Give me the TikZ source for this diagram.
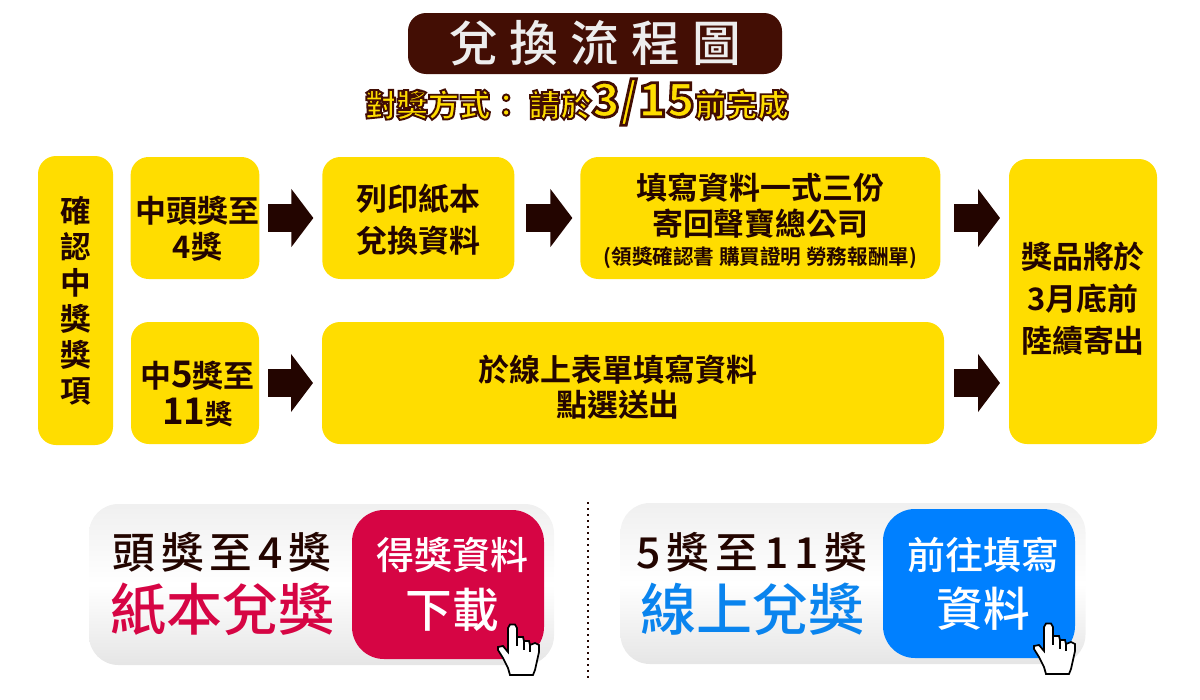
\documentclass[tikz,border=0pt]{standalone}
\usepackage{fontspec}
\usetikzlibrary{positioning,arrows.meta}
\newfontfamily\cjkbold{Noto Sans CJK TC Bold}
\newfontfamily\cjkmed{Noto Sans CJK TC Medium}
\newfontfamily\cjkwide{Noto Sans CJK TC Medium}[LetterSpace=25]
\newfontfamily\cjkwider{Noto Sans CJK TC Medium}[LetterSpace=14]
\newfontfamily\cjkline{Noto Sans CJK TC Black}[FakeBold=6]
\definecolor{flowbrown}{HTML}{430E04}
\definecolor{flowdark}{HTML}{230500}
\definecolor{flowyellow}{HTML}{FFDD00}
\definecolor{flowred}{HTML}{D60544}
\definecolor{flowblue}{HTML}{0080FF}
\definecolor{linkblue}{HTML}{0A84EE}
\newcommand{\fs}[1]{\fontsize{#1}{#1}\selectfont}
\newcommand{\dropby}[1]{\mbox{}\\[#1]}
\begin{document}
\begin{tikzpicture}[x=0.75pt,y=-0.75pt, outer sep=0pt,
    flowbox/.style={fill=flowyellow, rounded corners=13.5pt, inner sep=0pt, align=center,
      text=flowdark, minimum height=91.5pt},
    blockarr/.style 2 args={draw=flowdark, line width=21pt,
      -{Triangle[length=16.5pt,width=42.75pt]}, shorten <=#1, shorten >=#2},
    panelbox/.style={rounded corners=22pt, minimum width=348.75pt, minimum height=120.75pt,
      top color=black!6, bottom color=black!10, middle color=white, inner sep=0pt},
    gobtn/.style={rounded corners=24pt, minimum width=144pt, minimum height=111.75pt,
      inner sep=0pt, align=center, text=white, font=\cjkmed\fontsize{28.5}{43}\selectfont},
    handicon/.pic={
      \draw[fill=white, line width=1.3pt, line join=miter]
        (18,28) -- (20,24.5) -- (25,24.5) -- (27,28) -- (27,37) -- (33,37) -- (34,41)
        -- (39,41) -- (40,45) -- (45,43) -- (49,45) -- (49,52) -- (45,70) -- (43,75)
        -- (20,75) -- (18,68) -- (13,58) -- (8,50) -- (8,47) -- (13,46) -- (18,52) -- cycle;
      \draw[line width=1pt] (27,37) -- (27,46) (34,41) -- (34,50) (40,45) -- (40,52);
    }
  ]
  \useasboundingbox (0,0) rectangle (1200,700);

  \node[fill=flowbrown, rounded corners=13.5pt, minimum width=280.5pt, minimum height=45.75pt,
    text=black!7, font=\cjkwide\fs{36.5}, inner sep=0pt] (title) at (595,43.5) {兌換流程圖};
  \node[inner sep=0pt, font=\cjkline\fs{23.5}] (deadline) at (577,102) {%
    \special{pdf:bcolor [1 0.87 0] [0.26 0.05 0.01]}%
    對獎方式： 請於{\fs{35}3/15}前完成\special{pdf:ecolor}};

  \node[flowbox, minimum width=56.25pt, minimum height=216.75pt,
    font=\cjkbold\fontsize{23}{27}\selectfont] (confirm) at (75.5,300.5)
    {確\\認\\中\\獎\\獎\\項};
  \node[flowbox, minimum width=96pt, font=\cjkbold\fontsize{23.2}{27}\selectfont] (paper) at (195,218)
    {\dropby{8.4pt}\hspace*{3.75pt}中頭獎至\\\hspace*{3.75pt}4獎};
  \node[flowbox, minimum width=144pt, right=47.25pt of paper,
    font=\cjkbold\fontsize{23.2}{31.5}\selectfont] (print) {\dropby{-9.6pt}列印紙本\\兌換資料};
  \node[flowbox, minimum width=270pt, right=49.5pt of print,
    font=\cjkbold\fontsize{23.2}{27}\selectfont] (fill) {\dropby{-2.8pt}填寫資料一式三份\\寄回聲寶總公司\\[-5pt]
    {\fs{15.45}(領獎確認書 購買證明 勞務報酬單)}};
  \node[flowbox, minimum width=96pt, font=\cjkbold\fontsize{23.2}{27.5}\selectfont] (online) at (195,383)
    {\dropby{9.4pt}\hspace*{3.75pt}中{\fs{27.5}5}獎至\\\hspace*{3.75pt}{\fs{27.5}11}{\fs{20.5}獎}};
  \node[flowbox, minimum width=466.5pt, right=47.25pt of online,
    font=\cjkbold\fontsize{23.2}{26}\selectfont] (form)
    {\dropby{0.4pt}於線上表單填寫資料\hspace*{22.5pt}\mbox{}\\點選送出\hspace*{22.5pt}\mbox{}};
  \node[flowbox, minimum width=111pt, minimum height=213.75pt,
    font=\cjkbold\fontsize{23.2}{31.5}\selectfont] (prize) at (1083,301.5)
    {獎品將於\\3月底前\\陸續寄出\\[-25.7pt]\mbox{}};

  \draw[blockarr={6.75pt}{6.75pt}] (paper) -- (print);
  \draw[blockarr={9pt}{6pt}] (print) -- (fill);
  \draw[blockarr={10.5pt}{6.75pt}] (fill.east) -- (fill.east -| prize.west);
  \draw[blockarr={6.75pt}{6.75pt}] (online) -- (form);
  \draw[blockarr={7.5pt}{6.75pt}] (form.east) -- (form.east -| prize.west);

  \node[panelbox] (paperpanel) at (321.5,584.5) {};
  \node[panelbox] (onlinepanel) at (853,583.5) {};
  \node[gobtn, fill=flowred] (download) at (448,584.5)
    {\hspace*{6pt}得獎資料\\\hspace*{6pt}\fs{35}下載};
  \node[gobtn, fill=flowblue] (goform) at (979,583.5)
    {\hspace*{6pt}前往填寫\\\hspace*{6pt}\fs{35}資料};
  \node[inner sep=0pt, align=center, text=flowdark, font=\cjkwider\fontsize{32}{47}\selectfont] (papertext) at (222,584)
    {頭獎至4獎\\{\cjkmed\fs{42}\color{flowred}紙本兌獎}};
  \node[inner sep=0pt, align=center, text=flowdark, font=\cjkwider\fontsize{32}{47}\selectfont] (onlinetext) at (752,584)
    {5獎至11獎\\{\cjkmed\fs{42}\color{linkblue}線上兌獎}};

  \coordinate (dottop) at (588,502);
  \coordinate (dotend) at (588,678);
  \draw[line width=1.8pt, dash pattern=on 1.8pt off 2.7pt, flowdark] (dottop) -- (dotend);

  \pic at (490,600) {handicon};
  \pic at (1026,599) {handicon};
\end{tikzpicture}
\end{document}
